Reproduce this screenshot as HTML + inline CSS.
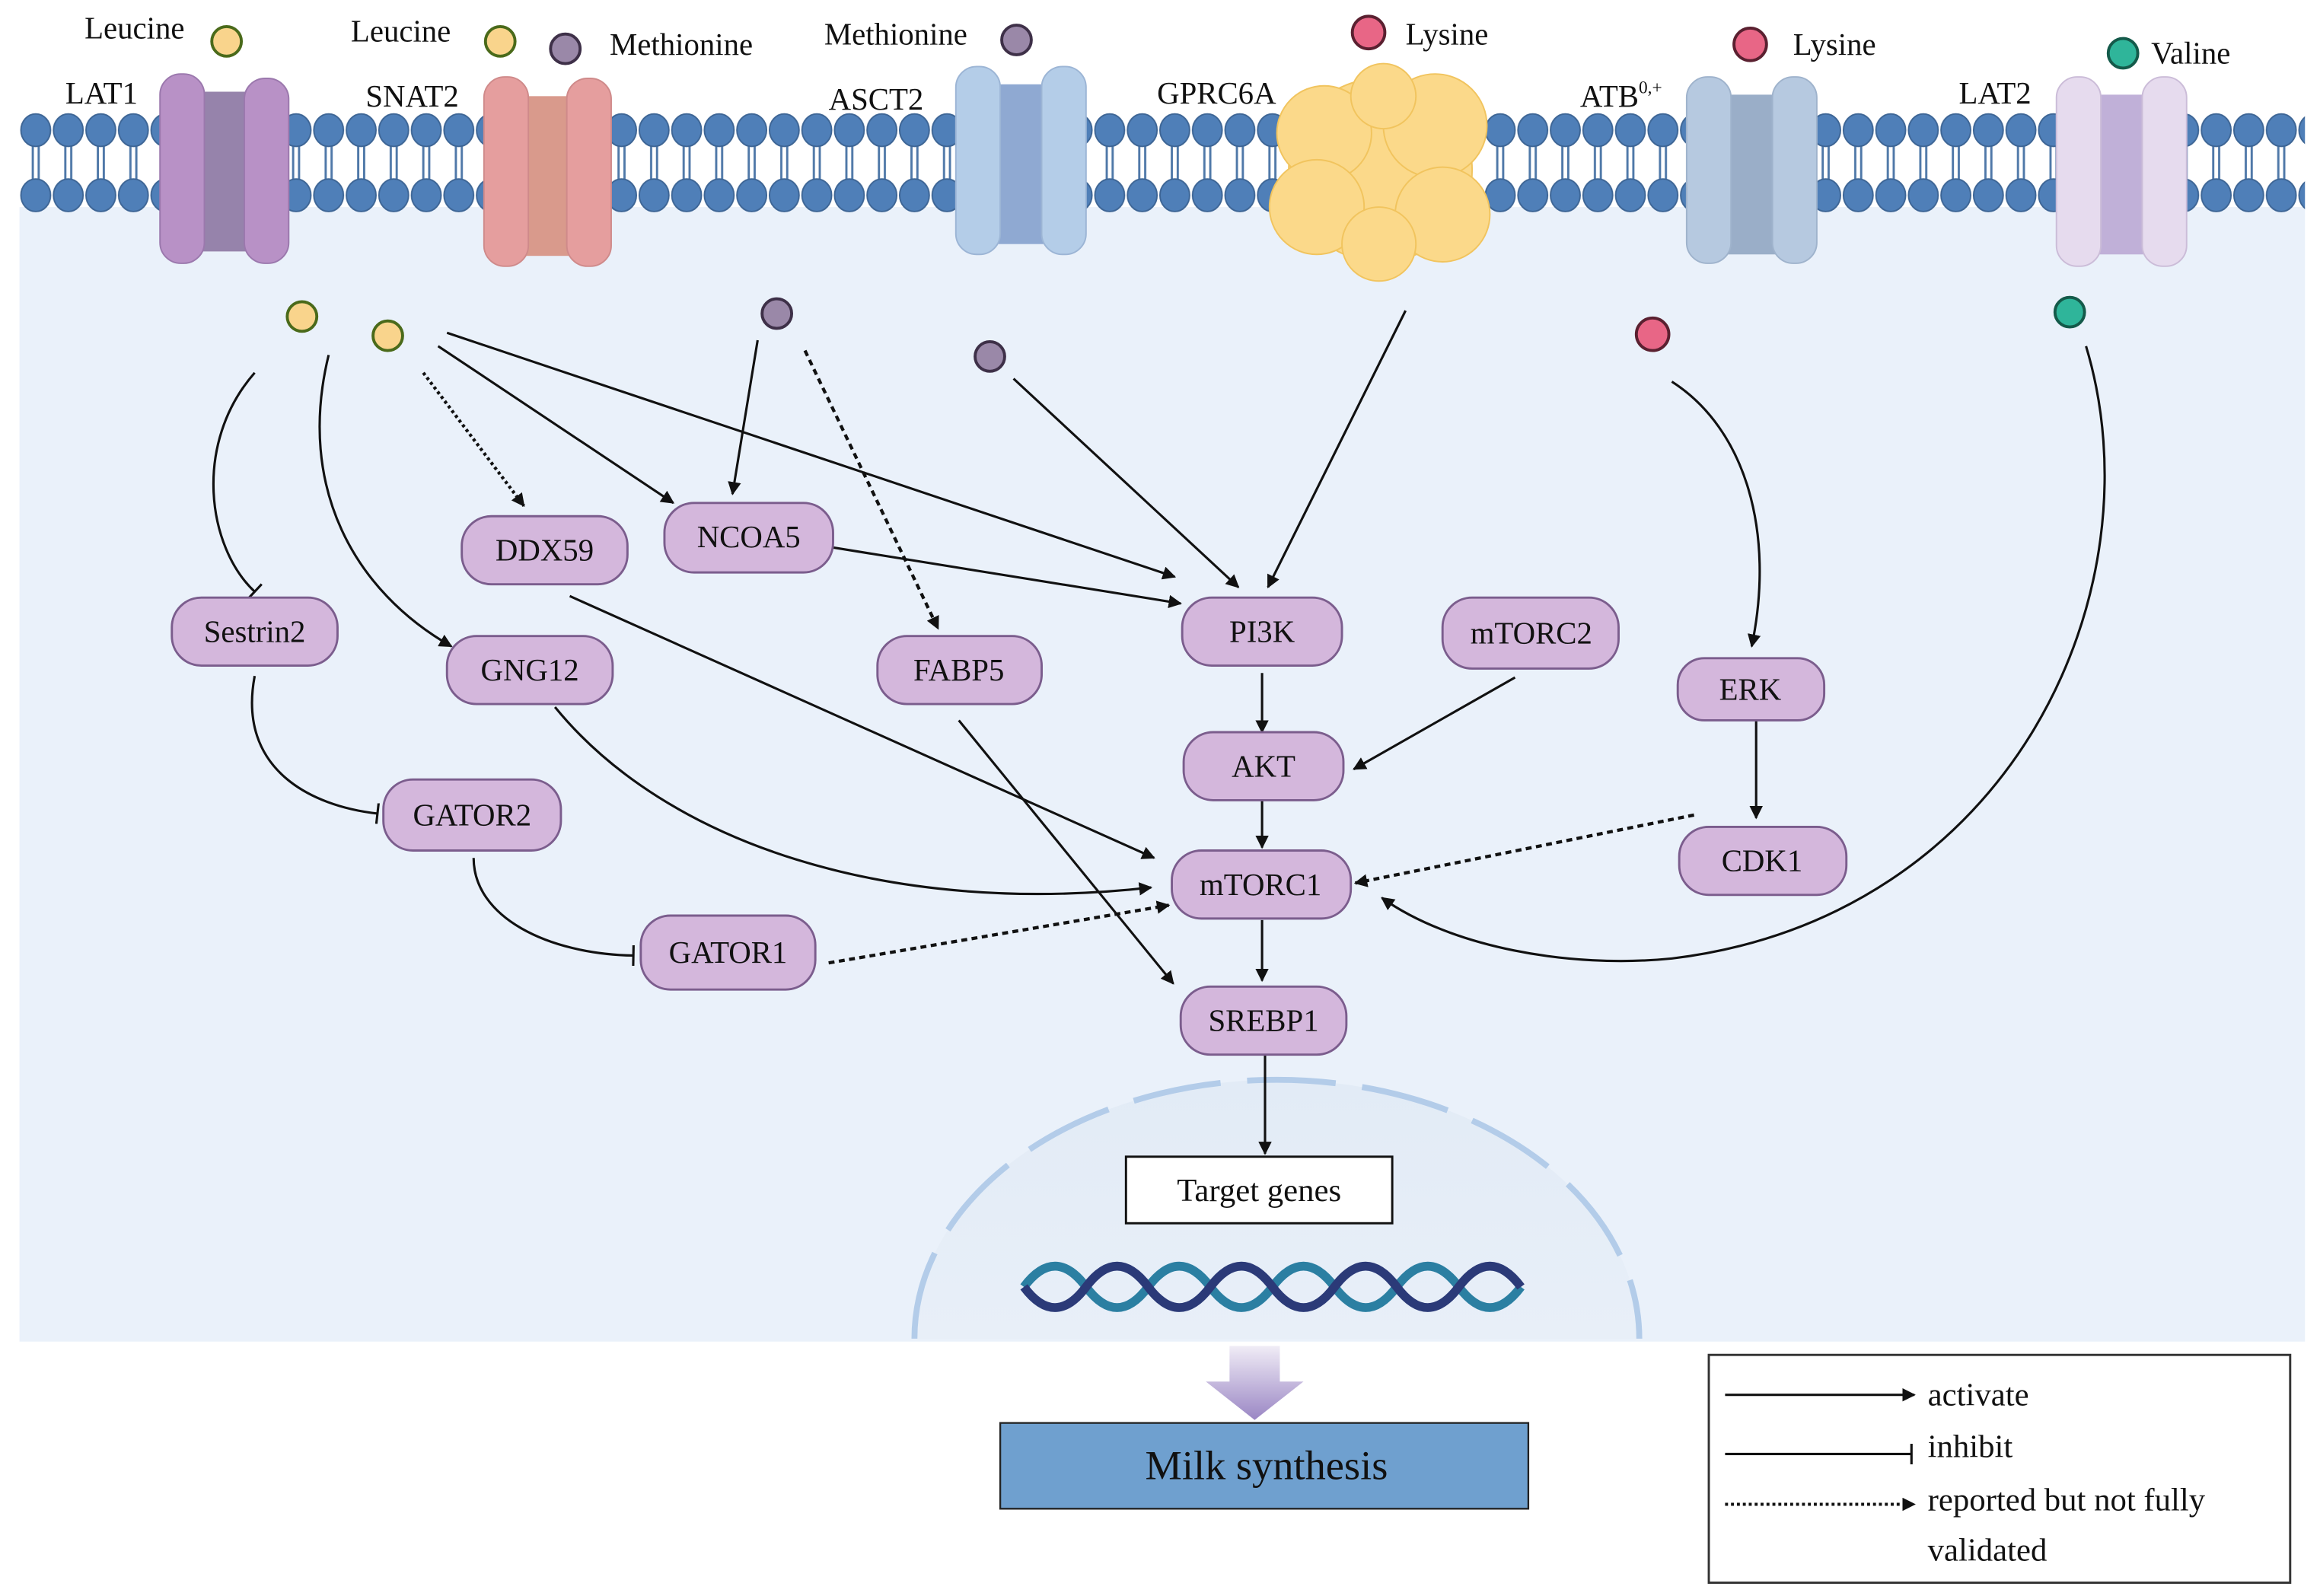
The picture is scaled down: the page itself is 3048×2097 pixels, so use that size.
<!DOCTYPE html>
<html><head><meta charset="utf-8">
<style>
html,body{margin:0;padding:0;background:#fff;}
svg{display:block;}
text{font-family:"Liberation Serif",serif;fill:#111;}
</style></head>
<body>
<svg width="3048" height="2097" viewBox="0 0 1568 1079" xmlns="http://www.w3.org/2000/svg">
<defs>
<pattern id="mem" x="13" y="0" width="22" height="160" patternUnits="userSpaceOnUse">
<line x1="9" y1="95" x2="9" y2="125" stroke="#4f78a8" stroke-width="1.5"/>
<line x1="13" y1="95" x2="13" y2="125" stroke="#4f78a8" stroke-width="1.5"/>
<ellipse cx="11" cy="88" rx="10" ry="11" fill="#4f7fb8" stroke="#3d6595" stroke-width="1"/>
<ellipse cx="11" cy="132" rx="10" ry="11" fill="#4f7fb8" stroke="#3d6595" stroke-width="1"/>
</pattern>
<marker id="a" viewBox="0 0 10 10" refX="9" refY="5" markerWidth="9" markerHeight="9" orient="auto" markerUnits="userSpaceOnUse"><path d="M0,0L10,5L0,10z" fill="#111"/></marker>
<marker id="t" viewBox="0 0 4 14" refX="2" refY="7" markerWidth="4" markerHeight="14" orient="auto" markerUnits="userSpaceOnUse"><line x1="2" y1="0" x2="2" y2="14" stroke="#111" stroke-width="1.6"/></marker>
<linearGradient id="arr" x1="0" y1="0" x2="0" y2="1"><stop offset="0" stop-color="#f0ecf6"/><stop offset="1" stop-color="#9a86c4"/></linearGradient>
<linearGradient id="nuc" x1="0" y1="0" x2="0" y2="1"><stop offset="0" stop-color="#e2ebf6"/><stop offset="1" stop-color="#e8eff8"/></linearGradient>
</defs>
<rect x="13" y="140" width="1545" height="767" fill="#eaf1fa"/>
<rect x="13" y="74" width="1545" height="72" fill="url(#mem)"/>
<!-- nucleus -->
<path d="M618,905 A245,175 0 0 1 1108,905 Z" fill="url(#nuc)"/>
<path d="M618,905 A245,175 0 0 1 1108,905" fill="none" stroke="#b3cce9" stroke-width="4" stroke-dasharray="60,18"/>
<!-- transporters -->
<g>
<rect x="128" y="62" width="50" height="108" fill="#9683ab"/>
<rect x="108" y="50" width="30" height="128" rx="14" fill="#b891c6" stroke="#9b78ad"/>
<rect x="165" y="53" width="30" height="125" rx="14" fill="#b891c6" stroke="#9b78ad"/>
<rect x="347" y="65" width="50" height="108" fill="#d99a8c"/>
<rect x="327" y="52" width="30" height="128" rx="14" fill="#e59e9e" stroke="#cf8a8a"/>
<rect x="383" y="53" width="30" height="127" rx="14" fill="#e59e9e" stroke="#cf8a8a"/>
<rect x="666" y="57" width="50" height="108" fill="#8fa9d2"/>
<rect x="646" y="45" width="30" height="127" rx="14" fill="#b4cde8" stroke="#9cb5d5"/>
<rect x="704" y="45" width="30" height="127" rx="14" fill="#b4cde8" stroke="#9cb5d5"/>
<rect x="1160" y="64" width="50" height="108" fill="#9aaec8"/>
<rect x="1140" y="52" width="30" height="126" rx="14" fill="#b6c9e0" stroke="#9fb3cc"/>
<rect x="1198" y="52" width="30" height="126" rx="14" fill="#b6c9e0" stroke="#9fb3cc"/>
<rect x="1410" y="64" width="50" height="108" fill="#c0b0d8"/>
<rect x="1390" y="52" width="30" height="128" rx="14" fill="#e6dbee" stroke="#cbbcd8"/>
<rect x="1448" y="52" width="30" height="128" rx="14" fill="#e6dbee" stroke="#cbbcd8"/>
<g fill="#fbd98a" stroke="#f1c45e" stroke-width="1">
<circle cx="933" cy="115" r="62"/><circle cx="895" cy="90" r="32"/><circle cx="970" cy="85" r="35"/><circle cx="890" cy="140" r="32"/><circle cx="975" cy="145" r="32"/><circle cx="932" cy="165" r="25"/><circle cx="935" cy="65" r="22"/>
</g>
</g>
<!-- labels top -->
<g font-size="21">
<text x="57" y="26">Leucine</text><text x="44" y="70">LAT1</text>
<text x="237" y="28">Leucine</text><text x="412" y="37">Methionine</text><text x="247" y="72">SNAT2</text>
<text x="557" y="30">Methionine</text><text x="560" y="74">ASCT2</text>
<text x="782" y="70">GPRC6A</text><text x="950" y="30">Lysine</text>
<text x="1212" y="37">Lysine</text><text x="1068" y="72">ATB<tspan font-size="12" dy="-9">0,+</tspan></text>
<text x="1454" y="43">Valine</text><text x="1324" y="70">LAT2</text>
</g>
<!-- dots -->
<g stroke-width="2">
<circle cx="153" cy="28" r="10" fill="#f9d48c" stroke="#4a6a1a"/>
<circle cx="338" cy="28" r="10" fill="#f9d48c" stroke="#4a6a1a"/>
<circle cx="382" cy="33" r="10" fill="#9a88a8" stroke="#3e3048"/>
<circle cx="687" cy="27" r="10" fill="#9a88a8" stroke="#3e3048"/>
<circle cx="925" cy="22" r="11" fill="#e86686" stroke="#5a2030"/>
<circle cx="1183" cy="30" r="11" fill="#e86686" stroke="#5a2030"/>
<circle cx="1435" cy="36" r="10" fill="#2fb59a" stroke="#145a4a"/>
<circle cx="204" cy="214" r="10" fill="#f9d48c" stroke="#4a6a1a"/>
<circle cx="262" cy="227" r="10" fill="#f9d48c" stroke="#4a6a1a"/>
<circle cx="525" cy="212" r="10" fill="#9a88a8" stroke="#3e3048"/>
<circle cx="669" cy="241" r="10" fill="#9a88a8" stroke="#3e3048"/>
<circle cx="1117" cy="226" r="11" fill="#e86686" stroke="#5a2030"/>
<circle cx="1399" cy="211" r="10" fill="#2fb59a" stroke="#145a4a"/>
</g>
<!-- edges -->
<g fill="none" stroke="#111" stroke-width="1.6">
<path d="M172,252 C130,300 140,370 172,400" marker-end="url(#t)"/>
<path d="M222,240 C200,330 240,400 305,437" marker-end="url(#a)"/>
<path d="M286,252 L354,342" stroke-dasharray="2,2" stroke-width="2.2" marker-end="url(#a)"/>
<path d="M296,234 L455,340" marker-end="url(#a)"/>
<path d="M302,225 L794,390" marker-end="url(#a)"/>
<path d="M512,230 L495,334" marker-end="url(#a)"/>
<path d="M544,237 L634,425" stroke-dasharray="4,3" stroke-width="2.2" marker-end="url(#a)"/>
<path d="M685,256 L837,397" marker-end="url(#a)"/>
<path d="M950,210 L857,397" marker-end="url(#a)"/>
<path d="M562,370 L798,408" marker-end="url(#a)"/>
<path d="M385,403 L780,580" marker-end="url(#a)"/>
<path d="M375,478 C450,570 600,620 778,600" marker-end="url(#a)"/>
<path d="M648,487 L793,665" marker-end="url(#a)"/>
<path d="M172,457 C160,520 210,545 255,550" marker-end="url(#t)"/>
<path d="M320,580 C320,620 370,645 428,646" marker-end="url(#t)"/>
<path d="M560,651 L790,612" stroke-dasharray="4,3" stroke-width="2.2" marker-end="url(#a)"/>
<path d="M853,455 L853,495" marker-end="url(#a)"/>
<path d="M1024,458 L915,520" marker-end="url(#a)"/>
<path d="M853,541 L853,573" marker-end="url(#a)"/>
<path d="M853,622 L853,663" marker-end="url(#a)"/>
<path d="M855,713 L855,780" marker-end="url(#a)"/>
<path d="M1130,258 C1180,290 1200,360 1184,437" marker-end="url(#a)"/>
<path d="M1187,487 L1187,553" marker-end="url(#a)"/>
<path d="M1145,551 L916,597" stroke-dasharray="4,3" stroke-width="2.2" marker-end="url(#a)"/>
<path d="M1410,234 C1460,400 1360,620 1130,648 C1060,655 980,640 934,607" marker-end="url(#a)"/>
</g>
<!-- nodes -->
<g fill="#d4b7dc" stroke="#7b5d8d" stroke-width="1.5">
<rect x="312" y="349" width="112" height="46" rx="20"/>
<rect x="449" y="340" width="114" height="47" rx="20"/>
<rect x="116" y="404" width="112" height="46" rx="20"/>
<rect x="302" y="430" width="112" height="46" rx="20"/>
<rect x="593" y="430" width="111" height="46" rx="20"/>
<rect x="799" y="404" width="108" height="46" rx="20"/>
<rect x="975" y="404" width="119" height="48" rx="20"/>
<rect x="800" y="495" width="108" height="46" rx="20"/>
<rect x="1134" y="445" width="99" height="42" rx="18"/>
<rect x="792" y="575" width="121" height="46" rx="20"/>
<rect x="1135" y="559" width="113" height="46" rx="20"/>
<rect x="259" y="527" width="120" height="48" rx="20"/>
<rect x="433" y="619" width="118" height="50" rx="20"/>
<rect x="798" y="667" width="112" height="46" rx="20"/>
</g>
<g font-size="21" text-anchor="middle">
<text x="368" y="379">DDX59</text><text x="506" y="370">NCOA5</text>
<text x="172" y="434">Sestrin2</text><text x="358" y="460">GNG12</text>
<text x="648" y="460">FABP5</text><text x="853" y="434">PI3K</text>
<text x="1035" y="435">mTORC2</text><text x="854" y="525">AKT</text>
<text x="1183" y="473">ERK</text><text x="852" y="605">mTORC1</text>
<text x="1191" y="589">CDK1</text><text x="319" y="558">GATOR2</text>
<text x="492" y="651">GATOR1</text><text x="854" y="697">SREBP1</text>
</g>
<rect x="761" y="782" width="180" height="45" fill="#fff" stroke="#111" stroke-width="1.5"/>
<text x="851" y="812" font-size="22" text-anchor="middle">Target genes</text>
<!-- DNA -->
<g fill="none" stroke-width="6">
<path d="M692,870 q21,-28 42,0 t42,0 t42,0 t42,0 t42,0 t42,0 t42,0 t42,0" stroke="#2b7fa2"/>
<path d="M692,870 q21,28 42,0 t42,0 t42,0 t42,0 t42,0 t42,0 t42,0 t42,0" stroke="#2b3a78"/>
</g>
<!-- big arrow -->
<path d="M831,910 h34 v24 h16 l-33,26 l-33,-26 h16 z" fill="url(#arr)"/>
<rect x="676" y="962" width="357" height="58" fill="#6fa0cf" stroke="#222" stroke-width="1.2"/>
<text x="856" y="1000" font-size="28" text-anchor="middle">Milk synthesis</text>
<!-- legend -->
<rect x="1155" y="916" width="393" height="154" fill="#fff" stroke="#333" stroke-width="1.5"/>
<g stroke="#111" stroke-width="1.6" fill="none">
<line x1="1166" y1="943" x2="1294" y2="943" marker-end="url(#a)"/>
<line x1="1166" y1="983" x2="1292" y2="983" marker-end="url(#t)"/>
<line x1="1166" y1="1017" x2="1294" y2="1017" stroke-dasharray="2,2" stroke-width="2" marker-end="url(#a)"/>
</g>
<g font-size="22">
<text x="1303" y="950">activate</text><text x="1303" y="985">inhibit</text>
<text x="1303" y="1021">reported but not fully</text><text x="1303" y="1055">validated</text>
</g>
</svg>
</body></html>
